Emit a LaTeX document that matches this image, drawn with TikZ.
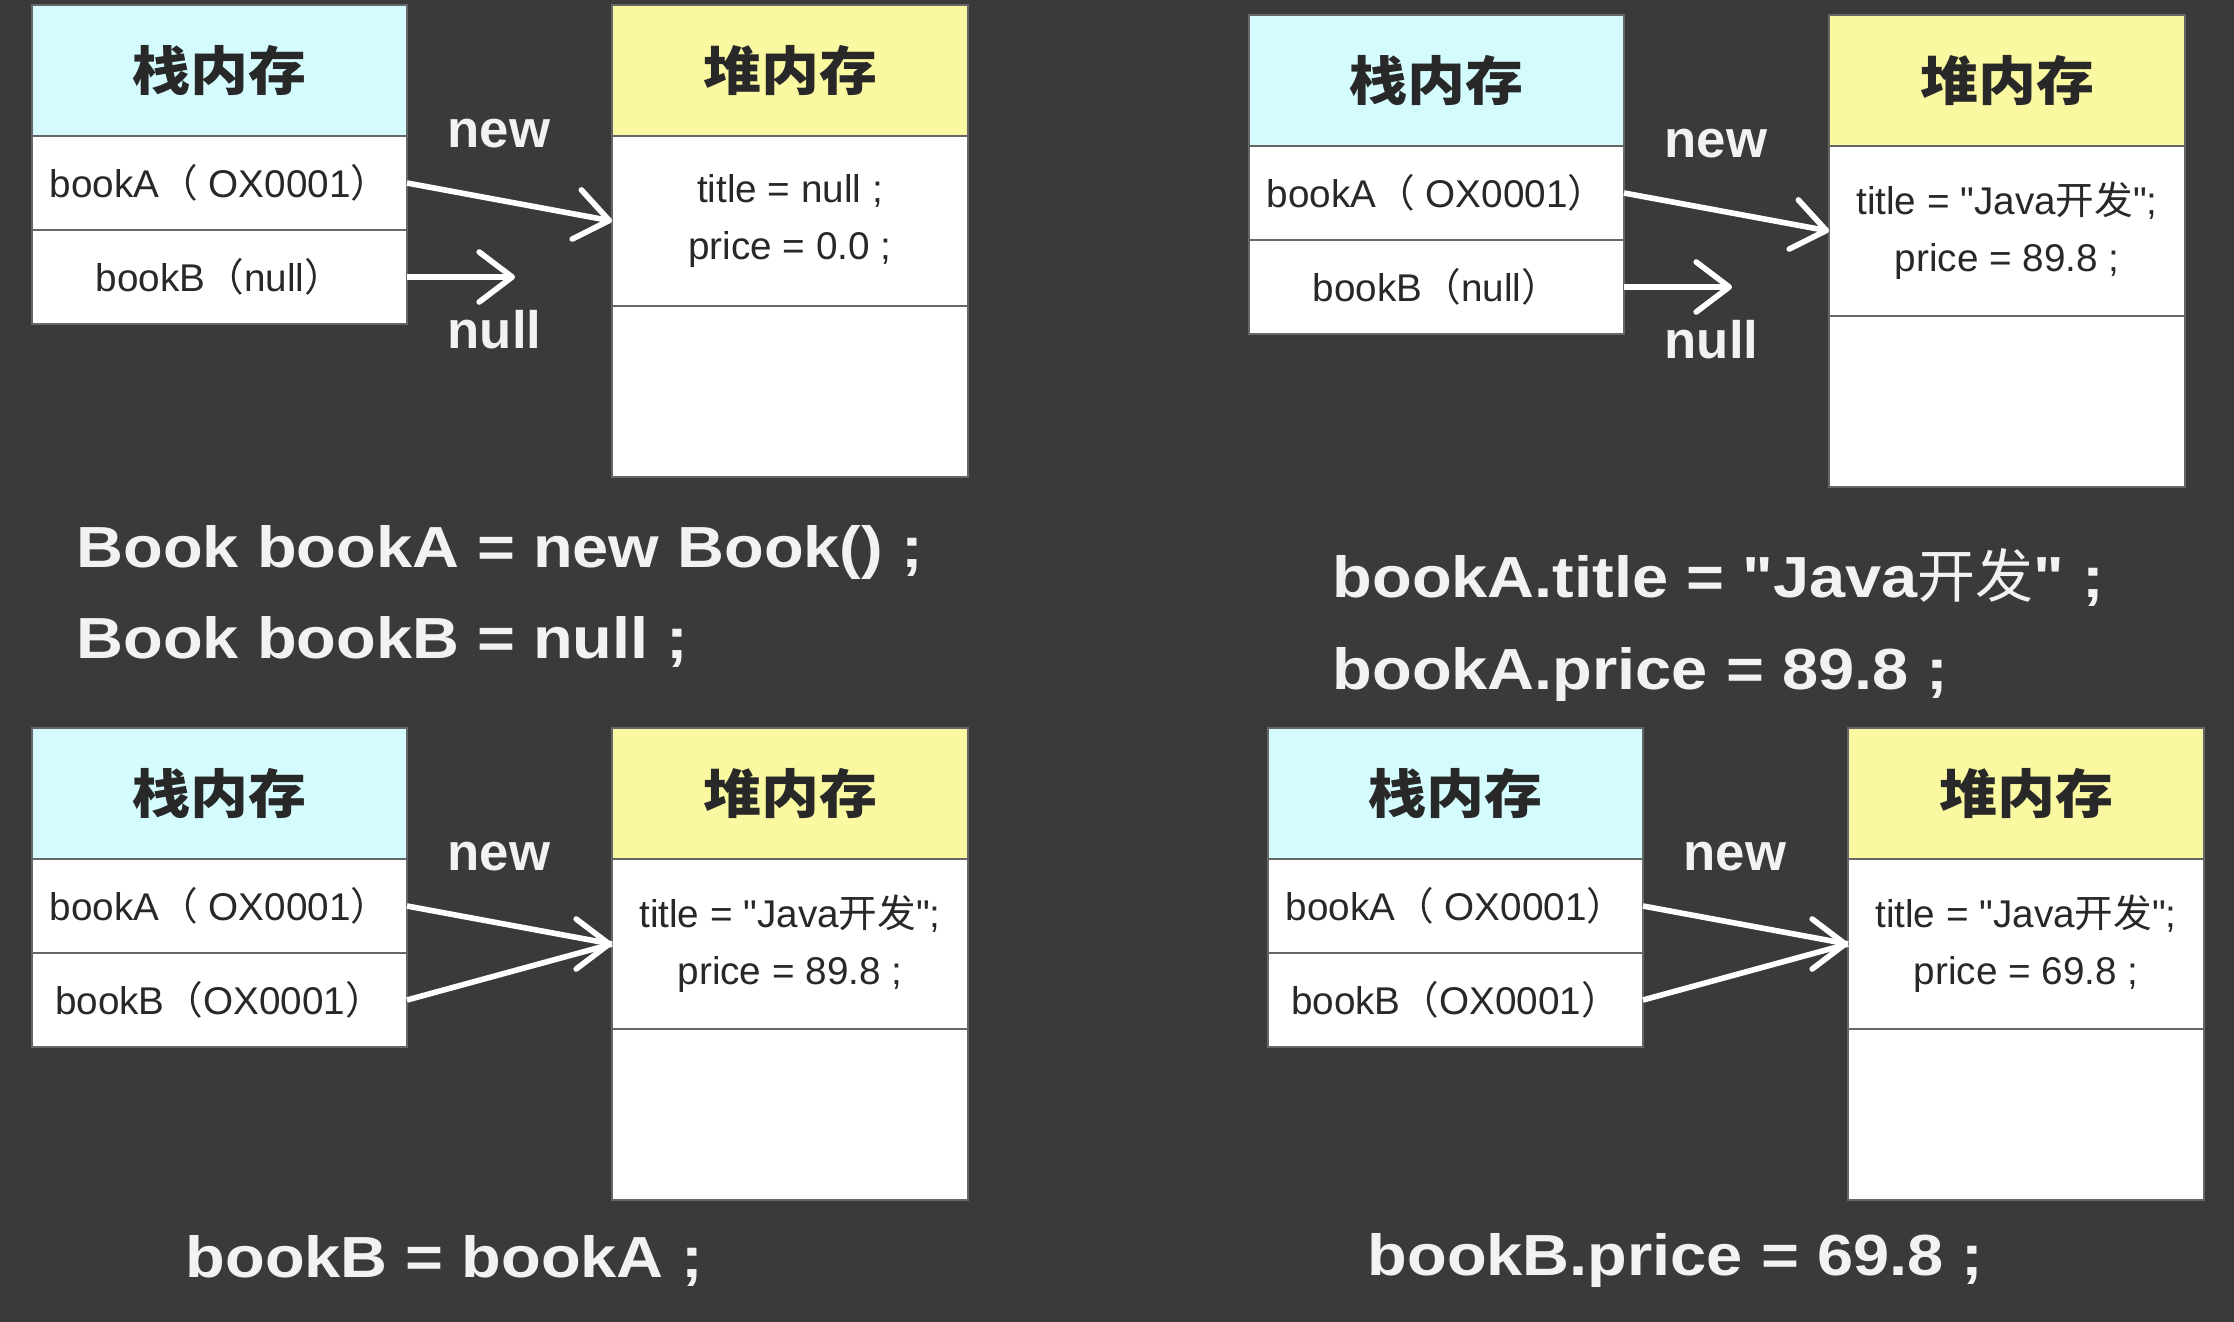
\documentclass[tikz,border=0pt]{standalone}
\usepackage{fontspec}
\setmainfont{Liberation Sans}
\newfontfamily\bodyfont{Liberation Sans}
\newfontfamily\cjk{Noto Sans CJK SC}
\newfontfamily\headfont{Noto Sans CJK SC}[FakeStretch=1.1]
\newfontfamily\codefont{Liberation Sans}[FakeStretch=1.12]
\usepackage{tikz}
\usetikzlibrary{positioning}
\usetikzlibrary{arrows.meta}

\definecolor{bg}{RGB}{58,58,58}
\definecolor{stackcol}{RGB}{212,252,255}
\definecolor{heapcol}{RGB}{250,248,160}
\definecolor{ink}{RGB}{40,40,40}
\definecolor{chalk}{RGB}{242,242,242}

\tikzset{
	cell/.style={draw=black!60, line width=0.5pt, fill=white, inner sep=0pt, outer sep=0pt,
		text=ink, font=\bodyfont\fontsize{11}{13}\selectfont},
	stackhead/.style={cell, fill=stackcol, minimum width=3.75cm, minimum height=1.31cm,
		font=\headfont\bfseries\fontsize{15}{18}\selectfont},
	heaphead/.style={cell, fill=heapcol, minimum width=3.56cm, minimum height=1.31cm,
		font=\headfont\bfseries\fontsize{15}{18}\selectfont},
	stackrow/.style={cell, minimum width=3.75cm, minimum height=0.94cm},
	heaprow/.style={cell, minimum width=3.56cm, minimum height=1.70cm, align=center,
		font=\bodyfont\fontsize{11}{16.2}\selectfont},
	heapfree/.style={cell, minimum width=3.56cm, minimum height=1.71cm},
	word/.style={text=chalk, inner sep=0pt, anchor=base west, font=\bfseries\fontsize{15}{18}\selectfont},
	code/.style={text=chalk, inner sep=0pt, anchor=base west, font=\codefont\bfseries\fontsize{16.5}{20}\selectfont},
	line/.style={draw=white, line width=1.6pt},
	link/.style={line, -{Straight Barb[length=0.33cm,width=0.5cm,round]}},
}

\begin{document}
\begin{tikzpicture}
	\fill[bg] (0,0) rectangle (22.34,-13.22);
	\useasboundingbox (0,0) rectangle (22.34,-13.22);
	\begin{scope}[xshift=0.32cm,yshift=-0.05cm]
		%% fig a
		\node[stackhead, anchor=north west] (a1) at (0,0) {栈内存};
		\node[stackrow, below=0pt of a1] (a2) {bookA{\cjk（} OX0001{\cjk）}};
		\node[stackrow, below=0pt of a2] (a3) {bookB{\cjk（}null{\cjk）}};
		\node[heaphead, right=2.05cm of a1] (a4) {堆内存};
		\node[heaprow, below=0pt of a4] (a5) {title = null ;\\price = 0.0 ;};
		\node[heapfree, below=0pt of a5] (a6) {};
		\node[word] (a7) at (4.15,-1.42) {new};
		\node[word] (a8) at (4.15,-3.43) {null};
		\coordinate[right=1.08cm of a3.east] (a9);
		% 连线
		\draw[link] (a2.east) -- (a5.west);
		\draw[link] (a3.east) -- (a9);
		\node[code] (a10) at (0.44,-5.62) {Book bookA = new Book() ;};
		\node[code] (a11) at (0.44,-6.53) {Book bookB = null ;};
	\end{scope}
	\begin{scope}[xshift=12.49cm,yshift=-0.15cm]
		%% fig b
		\node[stackhead, anchor=north west] (b1) at (0,0) {栈内存};
		\node[stackrow, below=0pt of b1] (b2) {bookA{\cjk（} OX0001{\cjk）}};
		\node[stackrow, below=0pt of b2] (b3) {bookB{\cjk（}null{\cjk）}};
		\node[heaphead, right=2.05cm of b1] (b4) {堆内存};
		\node[heaprow, below=0pt of b4] (b5) {title = "Java{\cjk 开发}";\\price = 89.8 ;};
		\node[heapfree, below=0pt of b5] (b6) {};
		\node[word] (b7) at (4.15,-1.42) {new};
		\node[word] (b8) at (4.15,-3.43) {null};
		\coordinate[right=1.08cm of b3.east] (b9);
		% 连线
		\draw[link] (b2.east) -- (b5.west);
		\draw[link] (b3.east) -- (b9);
		\node[code] (b10) at (0.83,-5.82) {bookA.title = "Java{\cjk\mdseries 开发}" ;};
		\node[code] (b11) at (0.83,-6.74) {bookA.price = 89.8 ;};
	\end{scope}
	\begin{scope}[xshift=0.32cm,yshift=-7.28cm]
		%% fig c
		\node[stackhead, anchor=north west] (c1) at (0,0) {栈内存};
		\node[stackrow, below=0pt of c1] (c2) {bookA{\cjk（} OX0001{\cjk）}};
		\node[stackrow, below=0pt of c2] (c3) {bookB{\cjk（}OX0001{\cjk）}};
		\node[heaphead, right=2.05cm of c1] (c4) {堆内存};
		\node[heaprow, below=0pt of c4] (c5) {title = "Java{\cjk 开发}";\\price = 89.8 ;};
		\node[heapfree, below=0pt of c5] (c6) {};
		\node[word] (c7) at (4.15,-1.42) {new};
		\coordinate[left=2pt of c5.west] (c8);
		% 连线
		\draw[line] (c2.east) -- (c5.west);
		\draw[line] (c3.east) -- (c5.west);
		\draw[link] (c8) -- (c5.west);
		\node[code] (c10) at (1.53,-5.49) {bookB = bookA ;};
	\end{scope}
	\begin{scope}[xshift=12.68cm,yshift=-7.28cm]
		%% fig d
		\node[stackhead, anchor=north west] (d1) at (0,0) {栈内存};
		\node[stackrow, below=0pt of d1] (d2) {bookA{\cjk（} OX0001{\cjk）}};
		\node[stackrow, below=0pt of d2] (d3) {bookB{\cjk（}OX0001{\cjk）}};
		\node[heaphead, right=2.05cm of d1] (d4) {堆内存};
		\node[heaprow, below=0pt of d4] (d5) {title = "Java{\cjk 开发}";\\price = 69.8 ;};
		\node[heapfree, below=0pt of d5] (d6) {};
		\node[word] (d7) at (4.15,-1.42) {new};
		\coordinate[left=2pt of d5.west] (d8);
		% 连线
		\draw[line] (d2.east) -- (d5.west);
		\draw[line] (d3.east) -- (d5.west);
		\draw[link] (d8) -- (d5.west);
		\node[code] (d10) at (0.99,-5.47) {bookB.price = 69.8 ;};
	\end{scope}
\end{tikzpicture}
\end{document}
